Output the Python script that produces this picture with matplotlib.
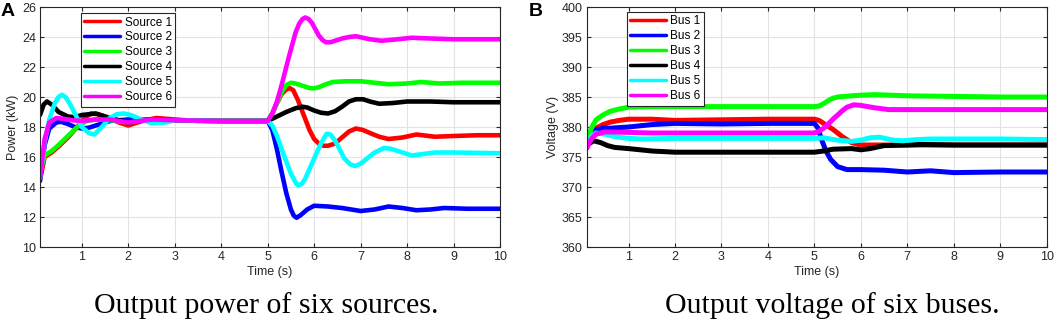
import matplotlib
matplotlib.use("Agg")
import matplotlib.pyplot as plt

# ---------------- data ----------------
# Panel A: output power of six sources (kW)
tA1 = [0.1, 0.2, 0.35, 0.5, 0.7, 0.9, 1.0, 1.1, 1.2, 1.35, 1.5, 1.8, 2.0, 2.3, 2.6, 3.0, 3.5, 4.0, 5.0,
       5.1, 5.2, 5.3, 5.4, 5.47, 5.55, 5.65, 5.8, 5.9, 6.0, 6.1, 6.2, 6.3, 6.45, 6.6, 6.75, 6.9, 7.05, 7.2, 7.4,
       7.6, 7.9, 8.2, 8.6, 9.0, 9.5, 10.0]
pA1 = [14.5, 16.0, 16.3, 16.7, 17.3, 18.0, 18.4, 18.7, 18.9, 18.85, 18.7, 18.3, 18.1, 18.4, 18.6, 18.5, 18.4, 18.4, 18.4,
       18.9, 19.6, 20.2, 20.5, 20.6, 20.45, 19.8, 18.6, 17.8, 17.2, 16.9, 16.75, 16.75, 16.9, 17.3, 17.7, 17.9, 17.8, 17.6, 17.35,
       17.2, 17.3, 17.5, 17.35, 17.4, 17.45, 17.45]

tA2 = [0.1, 0.2, 0.3, 0.45, 0.55, 0.7, 0.85, 1.0, 1.15, 1.3, 1.6, 2.0, 2.5, 3.0, 4.0, 5.0,
       5.1, 5.2, 5.3, 5.4, 5.5, 5.56, 5.62, 5.7, 5.85, 6.0, 6.3, 6.6, 6.8, 7.0, 7.3, 7.6, 7.9, 8.2, 8.5, 8.8, 9.3, 10.0]
pA2 = [14.4, 16.8, 17.9, 18.3, 18.35, 18.2, 18.0, 17.9, 17.95, 18.1, 18.4, 18.5, 18.5, 18.45, 18.4, 18.4,
       17.8, 16.5, 15.0, 13.6, 12.5, 12.1, 11.95, 12.1, 12.5, 12.75, 12.7, 12.6, 12.5, 12.4, 12.5, 12.7, 12.6, 12.45, 12.5, 12.6, 12.55, 12.55]

tA3 = [0.1, 0.2, 0.35, 0.5, 0.7, 0.9, 1.1, 1.3, 1.5, 2.0, 2.5, 3.0, 4.0, 5.0,
       5.1, 5.2, 5.3, 5.4, 5.5, 5.6, 5.75, 5.9, 6.0, 6.1, 6.25, 6.4, 6.7, 7.0, 7.3, 7.6, 8.0, 8.3, 8.7, 9.2, 10.0]
pA3 = [15.0, 16.1, 16.4, 16.8, 17.4, 18.0, 18.4, 18.5, 18.5, 18.3, 18.5, 18.45, 18.4, 18.4,
       18.9, 19.6, 20.3, 20.8, 20.95, 20.9, 20.75, 20.6, 20.58, 20.65, 20.85, 21.0, 21.05, 21.05, 20.95, 20.85, 20.9, 21.0, 20.9, 20.95, 20.95]

tA4 = [0.1, 0.18, 0.25, 0.35, 0.5, 0.7, 0.85, 1.0, 1.3, 1.6, 2.0, 2.5, 3.0, 4.0, 5.0,
       5.2, 5.4, 5.6, 5.75, 5.85, 6.0, 6.15, 6.3, 6.45, 6.6, 6.75, 6.9, 7.05, 7.2, 7.4, 7.7, 8.0, 8.5, 9.0, 10.0]
pA4 = [18.8, 19.5, 19.7, 19.5, 19.0, 18.7, 18.65, 18.8, 18.9, 18.6, 18.3, 18.5, 18.45, 18.4, 18.4,
       18.7, 19.0, 19.25, 19.35, 19.3, 19.1, 18.95, 18.9, 19.05, 19.35, 19.7, 19.85, 19.85, 19.7, 19.55, 19.6, 19.7, 19.7, 19.65, 19.65]

tA5 = [0.1, 0.2, 0.3, 0.42, 0.5, 0.57, 0.65, 0.75, 0.85, 1.0, 1.15, 1.27, 1.4, 1.6, 1.75, 1.9, 2.05, 2.2, 2.5, 2.8, 3.0, 4.0, 5.0,
       5.1, 5.2, 5.35, 5.5, 5.6, 5.66, 5.73, 5.8, 5.9, 6.0, 6.1, 6.2, 6.27, 6.35, 6.45, 6.55, 6.65, 6.78, 6.88, 7.0, 7.1, 7.3,
       7.5, 7.65, 7.8, 8.1, 8.6, 9.0, 10.0]
pA5 = [14.6, 17.0, 18.5, 19.6, 20.0, 20.15, 20.0, 19.5, 18.9, 18.0, 17.6, 17.5, 17.9, 18.6, 18.85, 18.9, 18.8, 18.6, 18.25, 18.3, 18.45, 18.4, 18.4,
       18.1, 17.4, 16.1, 14.9, 14.3, 14.1, 14.2, 14.5, 15.2, 15.9, 16.6, 17.2, 17.55, 17.5, 17.1, 16.5, 15.9, 15.5, 15.4, 15.55, 15.8, 16.3,
       16.6, 16.55, 16.4, 16.1, 16.3, 16.3, 16.25]

tA6 = [0.1, 0.2, 0.3, 0.45, 0.6, 0.8, 1.0, 1.3, 1.6, 2.0, 2.5, 3.0, 4.0, 5.0,
       5.1, 5.2, 5.3, 5.45, 5.6, 5.68, 5.75, 5.81, 5.88, 5.95, 6.03, 6.1, 6.18, 6.25, 6.35, 6.45, 6.6, 6.75, 6.9, 7.05,
       7.2, 7.45, 7.8, 8.1, 8.5, 9.0, 10.0]
pA6 = [14.6, 17.2, 18.3, 18.6, 18.55, 18.45, 18.4, 18.5, 18.5, 18.3, 18.5, 18.45, 18.4, 18.4,
       18.9, 19.7, 20.8, 22.6, 24.3, 24.9, 25.2, 25.3, 25.2, 24.95, 24.5, 24.1, 23.8, 23.65, 23.65, 23.75, 23.9, 24.0, 24.05, 23.95,
       23.85, 23.75, 23.85, 23.95, 23.9, 23.85, 23.85]

# Panel B: output voltage of six buses (V)
tB1 = [0.1, 0.2, 0.3, 0.45, 0.6, 0.8, 1.0, 1.5, 2.0, 3.0, 4.0, 5.0, 5.1, 5.2, 5.4, 5.6, 5.8, 6.0, 6.3, 6.6, 7.0, 8.0, 9.0, 10.0]
vB1 = [377.0, 378.8, 379.8, 380.4, 380.8, 381.1, 381.3, 381.3, 381.1, 381.2, 381.3, 381.3, 381.1, 380.6, 379.6, 378.4, 377.4, 377.0, 377.0, 377.0, 377.0, 377.0, 377.0, 377.0]

tB2 = [0.1, 0.2, 0.3, 0.45, 0.6, 1.0, 1.5, 2.0, 3.0, 4.0, 5.0, 5.08, 5.15, 5.25, 5.35, 5.5, 5.7, 6.0, 6.5, 7.0, 7.5, 8.0, 9.0, 10.0]
vB2 = [376.5, 378.6, 379.5, 379.8, 379.8, 380.0, 380.4, 380.6, 380.5, 380.6, 380.6, 379.8, 378.0, 376.0, 374.6, 373.4, 372.9, 372.9, 372.8, 372.5, 372.7, 372.4, 372.5, 372.5]

tB3 = [0.1, 0.2, 0.3, 0.45, 0.6, 0.8, 1.0, 1.5, 2.0, 3.0, 4.0, 5.0, 5.1, 5.2, 5.3, 5.4, 5.5, 5.8, 6.0, 6.3, 7.0, 8.0, 9.0, 10.0]
vB3 = [377.5, 379.8, 381.2, 382.0, 382.6, 383.0, 383.3, 383.4, 383.4, 383.4, 383.4, 383.4, 383.5, 383.9, 384.4, 384.8, 385.0, 385.2, 385.3, 385.4, 385.2, 385.1, 385.0, 385.0]

tB4 = [0.1, 0.25, 0.4, 0.55, 0.7, 1.0, 1.5, 2.0, 3.0, 4.0, 5.0, 5.2, 5.4, 5.8, 6.0, 6.2, 6.5, 7.0, 7.3, 8.0, 9.0, 10.0]
vB4 = [377.0, 377.7, 377.4, 376.9, 376.6, 376.4, 376.0, 375.8, 375.8, 375.8, 375.8, 376.0, 376.3, 376.4, 376.2, 376.4, 376.9, 377.0, 377.1, 377.0, 377.0, 377.0]

tB5 = [0.1, 0.2, 0.3, 0.5, 0.7, 1.0, 1.3, 2.0, 3.0, 4.0, 5.0, 5.2, 5.5, 5.8, 6.0, 6.2, 6.4, 6.7, 6.9, 7.2, 7.5, 8.0, 9.0, 10.0]
vB5 = [377.0, 378.4, 379.0, 378.8, 378.4, 378.1, 378.0, 378.1, 378.1, 378.1, 378.1, 378.2, 377.8, 377.6, 377.8, 378.2, 378.3, 377.8, 377.7, 377.9, 378.0, 378.0, 378.0, 377.9]

tB6 = [0.1, 0.2, 0.3, 0.5, 1.0, 1.5, 2.0, 3.0, 4.0, 5.0, 5.1, 5.2, 5.3, 5.4, 5.5, 5.6, 5.7, 5.85, 6.0, 6.3, 6.6, 7.0, 8.0, 9.0, 10.0]
vB6 = [376.5, 378.0, 378.8, 379.2, 379.1, 379.0, 379.0, 379.0, 379.0, 379.0, 379.3, 379.8, 380.5, 381.3, 382.0, 382.7, 383.3, 383.7, 383.6, 383.2, 382.9, 382.9, 382.9, 382.9, 382.9]

source_labels = ["Source 1", "Source 2", "Source 3", "Source 4", "Source 5", "Source 6"]
bus_labels = ["Bus 1", "Bus 2", "Bus 3", "Bus 4", "Bus 5", "Bus 6"]
colors = ["#ff0000", "#0000ff", "#00ff00", "#000000", "#00ffff", "#ff00ff"]

xticks = [1, 2, 3, 4, 5, 6, 7, 8, 9, 10]
yticksA = [10, 12, 14, 16, 18, 20, 22, 24, 26]
yticksB = [360, 365, 370, 375, 380, 385, 390, 395, 400]

caption_A = "Output power of six sources."
caption_B = "Output voltage of six buses."

# ---------------- figure ----------------
plt.rcParams['font.family'] = ['Liberation Sans', 'DejaVu Sans']
fig = plt.figure(figsize=(10.59, 3.23), dpi=100)
W, H = 1059, 323

def make_axes(left_px, right_px):
    return fig.add_axes([left_px / W, 1 - 247 / H, (right_px - left_px) / W, (247 - 7) / H])

axA = make_axes(40, 500)
axB = make_axes(586.7, 1046.7)

seriesA = [(tA1, pA1), (tA2, pA2), (tA3, pA3), (tA4, pA4), (tA5, pA5), (tA6, pA6)]
seriesB = [(tB1, vB1), (tB2, vB2), (tB3, vB3), (tB4, vB4), (tB5, vB5), (tB6, vB6)]

for ax, series, labels, lw in [(axA, seriesA, source_labels, 3.3), (axB, seriesB, bus_labels, 3.6)]:
    for (t, v), lab, c in zip(series, labels, colors):
        ax.plot(t, v, color=c, lw=lw, label=lab, solid_joinstyle='round', solid_capstyle='round')

def style(ax, yticks, ylabel, leg_anchor):
    ax.set_xlim(0.1, 10)
    ax.set_ylim(yticks[0], yticks[-1])
    ax.set_xticks(xticks)
    ax.set_yticks(yticks)
    ax.grid(True, color='#e3e3e3', lw=0.8)
    ax.set_axisbelow(True)
    ax.tick_params(direction='in', top=True, right=True, labelsize=9, length=3,
                   color='#262626', labelcolor='#262626', pad=3)
    for s in ax.spines.values():
        s.set_color('#262626')
        s.set_linewidth(0.8)
    ax.set_xlabel("Time (s)", fontsize=9, color='#262626', labelpad=2)
    ax.set_ylabel(ylabel, fontsize=9, color='#262626', labelpad=2)
    leg = ax.legend(loc='upper left', bbox_to_anchor=leg_anchor, fontsize=8.5, handlelength=3.0,
                    frameon=True, fancybox=False, framealpha=1, edgecolor='#262626',
                    borderpad=0.3, labelspacing=0.25, handletextpad=0.4, borderaxespad=0)
    leg.get_frame().set_linewidth(0.8)
    for l in leg.get_lines():
        l.set_linewidth(2.5)

style(axA, yticksA, "Power (kW)", (0.089, 0.975))
style(axB, yticksB, "Voltage (V)", (0.087, 0.98))

fig.text(1 / W, 1 - 12 / H, "A", fontsize=14, fontweight='bold', va='center', ha='left')
fig.text(529 / W, 1 - 12 / H, "B", fontsize=14, fontweight='bold', va='center', ha='left')

fig.text(266.7 / W, 1 - 313 / H, caption_A, fontsize=21.5,
         family=['Liberation Serif', 'DejaVu Serif'], ha='center', va='baseline')
fig.text(832.5 / W, 1 - 313 / H, caption_B, fontsize=21.5,
         family=['Liberation Serif', 'DejaVu Serif'], ha='center', va='baseline')

fig.savefig("out.png", dpi=100)
